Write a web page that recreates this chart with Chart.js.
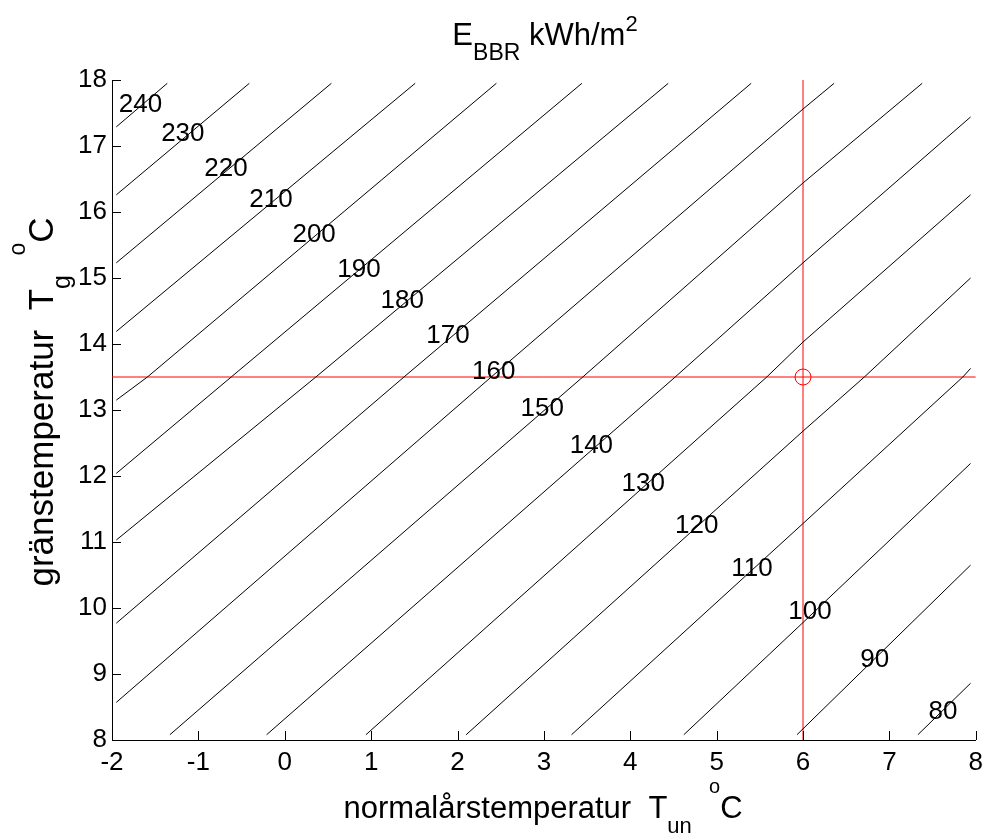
<!DOCTYPE html>
<html>
<head>
<meta charset="utf-8">
<script src="https://cdn.jsdelivr.net/npm/chart.js@4"></script>
<style>
  html, body { margin: 0; padding: 0; background: #fff; }
  canvas { display: block; }
</style>
</head>
<body>
<canvas id="contourChart" width="990" height="836"></canvas>
<script>
const FONT = '"Liberation Sans", Arial, Helvetica, sans-serif';

// contour levels, E_BBR in kWh/m2
const levels = [240, 230, 220, 210, 200, 190, 180, 170, 160, 150, 140, 130, 120, 110, 100, 90, 80];

// points along each contour: normal-year temperature (x) and balance temperature (y)
const contourTun = [
  [-1.95, -1.36],
  [-1.95, -0.41],
  [-1.95, 0.54],
  [-1.95, 1.51],
  [-1.95, -1.59, 2.45],
  [-1.95, -0.62, 3.44],
  [-1.95, 0.36, 4.44],
  [-1.95, 1.38, 5.40],
  [-1.95, 2.39, 6.00, 6.36],
  [-1.33, 3.45, 6.00, 7.38],
  [-0.21, 4.52, 6.00, 7.94],
  [0.94, 5.58, 6.00, 7.94],
  [2.10, 6.00, 6.71, 7.94],
  [3.32, 6.00, 7.85, 7.94],
  [4.62, 6.00, 7.94],
  [5.93, 7.94],
  [7.33, 7.94]
];
const contourTg = [
  [17.29, 17.95],
  [16.26, 17.95],
  [15.23, 17.95],
  [14.19, 17.95],
  [13.15, 13.5, 17.95],
  [12.04, 13.5, 17.95],
  [11.03, 13.5, 17.95],
  [9.77, 13.5, 17.95],
  [8.57, 13.5, 17.56, 17.95],
  [8.08, 13.5, 16.44, 17.95],
  [8.08, 13.5, 15.23, 17.44],
  [8.08, 13.5, 14.03, 16.26],
  [8.08, 12.68, 13.5, 15.0],
  [8.08, 11.28, 13.5, 13.63],
  [8.08, 9.78, 12.19],
  [8.08, 10.65],
  [8.08, 8.86]
];

// where the level numbers sit
const labelTun = [-1.67, -1.18, -0.68, -0.16, 0.34, 0.86, 1.36, 1.89, 2.42, 2.98, 3.55, 4.15, 4.77, 5.41, 6.08, 6.83, 7.62];
const labelTg = [17.63, 17.18, 16.66, 16.18, 15.66, 15.13, 14.66, 14.12, 13.58, 13.02, 12.45, 11.88, 11.24, 10.60, 9.94, 9.21, 8.42];

// selected design point
const pointTun = 6;
const pointTg = 13.5;

const xTicks = [-2, -1, 0, 1, 2, 3, 4, 5, 6, 7, 8];
const yTicks = [8, 9, 10, 11, 12, 13, 14, 15, 16, 17, 18];
const xRange = [-2, 8];
const yRange = [8, 18];

const datasets = levels.map((lv, i) => ({
  label: String(lv),
  data: contourTun[i].map((t, j) => ({ x: t, y: contourTg[i][j] })),
  showLine: true,
  borderColor: '#000',
  borderWidth: 1,
  pointRadius: 0,
  tension: 0
}));

datasets.push({
  label: 'Tg',
  data: xRange.map(t => ({ x: t, y: pointTg })),
  showLine: true, borderColor: '#ff0000', borderWidth: 1, pointRadius: 0
});
datasets.push({
  label: 'Tun',
  data: yRange.map(g => ({ x: pointTun, y: g })),
  showLine: true, borderColor: '#ff0000', borderWidth: 1, pointRadius: 0
});
datasets.push({
  label: 'punkt',
  data: [{ x: pointTun, y: pointTg }],
  showLine: false, pointRadius: 8, pointStyle: 'circle',
  borderColor: '#ff0000', borderWidth: 1, backgroundColor: 'rgba(0,0,0,0)'
});

// text with sub/superscript pieces, centred on (x, y) baseline
function drawRich(ctx, parts, x, y, angle) {
  ctx.save();
  ctx.translate(x, y);
  ctx.rotate(angle || 0);
  let total = 0;
  parts.forEach(p => {
    ctx.font = p.size + 'px ' + FONT;
    p.w = ctx.measureText(p.text).width;
    total += p.w;
  });
  let cx = -total / 2;
  ctx.textAlign = 'left';
  ctx.textBaseline = 'alphabetic';
  ctx.fillStyle = '#000';
  parts.forEach(p => {
    ctx.font = p.size + 'px ' + FONT;
    ctx.fillText(p.text, cx, p.dy || 0);
    cx += p.w;
  });
  ctx.restore();
}

const matlabAxes = {
  id: 'matlabAxes',
  afterDatasetsDraw(chart) {
    const { ctx, chartArea: a, scales: { x, y } } = chart;
    const tickLen = 9;
    ctx.save();
    ctx.strokeStyle = '#000';
    ctx.lineWidth = 1;
    ctx.beginPath();
    xTicks.forEach(v => {
      const px = Math.round(x.getPixelForValue(v)) + 0.5;
      ctx.moveTo(px, a.bottom);
      ctx.lineTo(px, a.bottom - tickLen);
    });
    yTicks.forEach(v => {
      const py = Math.round(y.getPixelForValue(v)) + 0.5;
      ctx.moveTo(a.left, py);
      ctx.lineTo(a.left + tickLen, py);
    });
    ctx.stroke();

    // level numbers on the contours
    ctx.font = '26px ' + FONT;
    ctx.fillStyle = '#000';
    ctx.textAlign = 'center';
    ctx.textBaseline = 'middle';
    levels.forEach((lv, i) => {
      ctx.fillText(String(lv), x.getPixelForValue(labelTun[i]), y.getPixelForValue(labelTg[i]));
    });
    ctx.restore();

    drawRich(ctx, [
      { text: 'E', size: 31 },
      { text: 'BBR', size: 23, dy: 15 },
      { text: ' kWh/m', size: 31 },
      { text: '2', size: 22, dy: -14 }
    ], 545, 45);

    drawRich(ctx, [
      { text: 'normalårstemperatur  T', size: 31 },
      { text: 'un', size: 22, dy: 15 },
      { text: '  ', size: 31 },
      { text: 'o', size: 20, dy: -25 },
      { text: 'C', size: 31 }
    ], 543, 818);

    drawRich(ctx, [
      { text: 'gränstemperatur  T', size: 35 },
      { text: 'g', size: 25, dy: 17 },
      { text: '  ', size: 35 },
      { text: 'o', size: 23, dy: -28 },
      { text: 'C', size: 35 }
    ], 53, 402, -Math.PI / 2);
  }
};

new Chart(document.getElementById('contourChart'), {
  type: 'scatter',
  data: { datasets: datasets },
  options: {
    responsive: false,
    animation: false,
    events: [],
    layout: { padding: { top: 80, right: 10, left: 0, bottom: 0 } },
    plugins: {
      legend: { display: false },
      tooltip: { enabled: false }
    },
    scales: {
      x: {
        type: 'linear',
        min: xRange[0],
        max: xRange[1],
        ticks: { stepSize: 1, color: '#000', font: { family: FONT, size: 26 }, padding: 7, maxRotation: 0 },
        grid: { drawOnChartArea: false, drawTicks: false },
        border: { display: true, color: '#000', width: 1 },
        afterFit: s => { s.height = 96; }
      },
      y: {
        type: 'linear',
        min: yRange[0],
        max: yRange[1],
        ticks: { stepSize: 1, color: '#000', font: { family: FONT, size: 26 }, padding: 5 },
        grid: { drawOnChartArea: false, drawTicks: false },
        border: { display: true, color: '#000', width: 1 },
        afterFit: s => { s.width = 112; }
      }
    }
  },
  plugins: [matlabAxes]
});
</script>
</body>
</html>
